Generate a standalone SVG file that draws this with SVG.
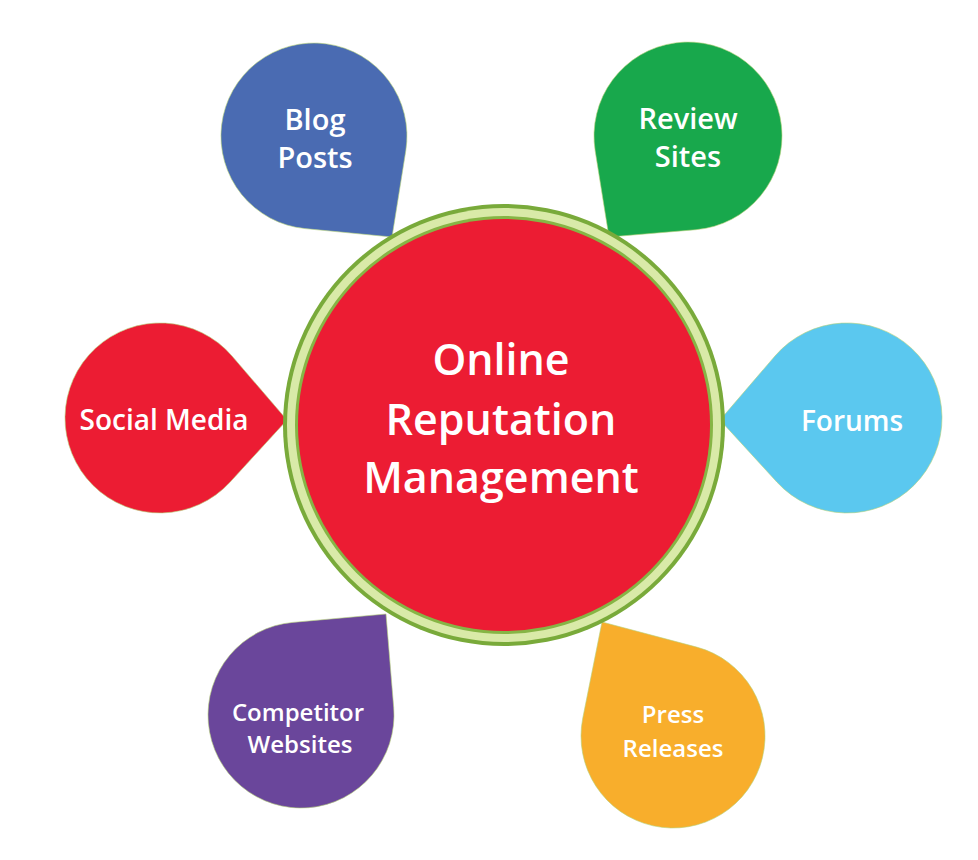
<svg xmlns="http://www.w3.org/2000/svg" width="978" height="860" viewBox="0 0 978 860">
<style>
.drop{stroke:#b6d27a;stroke-width:1;stroke-opacity:0.6}
.lbl{font-family:"Open Sans","Noto Sans","Liberation Sans",sans-serif;font-weight:600;fill:#ffffff;text-anchor:middle}
</style>
<rect width="978" height="860" fill="#ffffff"/>
<g id="blog-posts">
<path class="drop" fill="#4a6bb2" d="M392,237 L405.8,150.7 A93,93 0 1 0 305.1,228.6 Z"/>
<text class="lbl" x="315" y="130" font-size="29">Blog</text>
<text class="lbl" x="315" y="168" font-size="29">Posts</text>
</g>
<g id="review-sites">
<path class="drop" fill="#18a84c" d="M609,237 L695.9,229.7 A94,94 0 1 0 595.2,151 Z"/>
<text class="lbl" x="688" y="129" font-size="29">Review</text>
<text class="lbl" x="688" y="167" font-size="29">Sites</text>
</g>
<g id="social-media">
<path class="drop" fill="#ec1c33" d="M287,420 L232,356 A95,95 0 1 0 230,482.2 Z"/>
<text class="lbl" x="164" y="430" font-size="28">Social Media</text>
</g>
<g id="forums">
<path class="drop" fill="#5bc8ef" d="M720,420 L777,482.2 A95,95 0 1 0 775,356 Z"/>
<text class="lbl" x="852" y="431" font-size="28">Forums</text>
</g>
<g id="competitor-websites">
<path class="drop" fill="#6a469b" d="M386,614 L292.7,622.4 A93,93 0 1 0 393.7,707.4 Z"/>
<text class="lbl" x="298" y="721" font-size="24">Competitor</text>
<text class="lbl" x="300" y="753" font-size="24">Websites</text>
</g>
<g id="press-releases">
<path class="drop" fill="#f8ae2c" d="M602,622 L582.8,718 A92,92 0 1 0 696.7,647.1 Z"/>
<text class="lbl" x="673" y="723" font-size="24">Press</text>
<text class="lbl" x="673" y="757" font-size="24">Releases</text>
</g>
<g id="online-reputation-management">
<circle cx="504" cy="425" r="221" fill="#79aa3a"/>
<circle cx="504" cy="425" r="217" fill="#d9eaa8"/>
<circle cx="504" cy="425" r="209" fill="#86b545"/>
<circle cx="504" cy="425" r="206" fill="#ec1c33"/>
<text class="lbl" x="501" y="375" font-size="43">Online</text>
<text class="lbl" x="501" y="435" font-size="43">Reputation</text>
<text class="lbl" x="501" y="493" font-size="43">Management</text>
</g>
<g id="connectors"></g>
</svg>
